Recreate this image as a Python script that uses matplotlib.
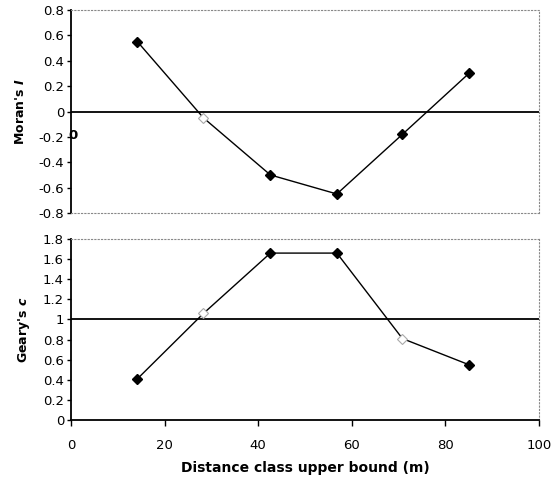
import matplotlib.pyplot as plt

# distance classes (upper bound, m)
dist = [14.2, 28.3, 42.6, 56.8, 70.8, 85.0]
moran_i = [0.55, -0.05, -0.50, -0.65, -0.18, 0.30]
geary_c = [0.41, 1.06, 1.66, 1.66, 0.81, 0.55]
# significant classes drawn filled, others hollow
moran_sig = [True, False, True, True, True, True]
geary_sig = [True, False, True, True, False, True]

plt.rcParams['font.family'] = 'DejaVu Sans'
fig = plt.figure(figsize=(5.52, 4.86), dpi=100)
ax1 = fig.add_axes([0.1286, 0.5617, 0.848, 0.4177])
ax2 = fig.add_axes([0.1286, 0.1358, 0.848, 0.3724])


def style(ax, show_x):
    for side in ['top', 'right']:
        ax.spines[side].set_linestyle((0, (1, 2)))
        ax.spines[side].set_color('#888888')
        ax.spines[side].set_linewidth(0.8)
    ax.spines['left'].set_linewidth(1.3)
    if show_x:
        ax.spines['bottom'].set_linewidth(1.3)
        ax.tick_params(axis='x', direction='out', length=4, width=1, labelsize=9.5, pad=10)
    else:
        ax.spines['bottom'].set_linestyle((0, (1, 2)))
        ax.spines['bottom'].set_color('#888888')
        ax.spines['bottom'].set_linewidth(0.8)
        ax.tick_params(axis='x', length=0, labelbottom=False)
    ax.tick_params(axis='y', direction='out', length=3, width=1, labelsize=9.5, pad=2)
    ax.set_xlim(0, 100)
    ax.set_xticks(range(0, 101, 20))


def draw(ax, y, sig):
    ax.plot(dist, y, color='black', lw=1, zorder=3)
    for xi, yi, s in zip(dist, y, sig):
        if s:
            ax.plot(xi, yi, 'D', ms=5, color='black', zorder=4)
        else:
            ax.plot(xi, yi, 'D', ms=5, mfc='white', mec='#aaaaaa', mew=0.8, zorder=4)


style(ax1, False)
ax1.axhline(0, color='black', lw=1.3, zorder=2)
draw(ax1, moran_i, moran_sig)
ax1.set_ylim(-0.8, 0.8)
ax1.set_yticks([-0.8, -0.6, -0.4, -0.2, 0, 0.2, 0.4, 0.6, 0.8])
ax1.set_yticklabels(['-0.8', '-0.6', '-0.4', '-0.2', '0', '0.2', '0.4', '0.6', '0.8'])
ax1.set_ylabel(r"Moran's $\mathbfit{I}$", fontsize=9, fontweight='bold', labelpad=8)
ax1.text(0.4, -0.19, '0', fontsize=9.5, fontweight='bold', ha='center', va='center',
         zorder=5, clip_on=False)

style(ax2, True)
ax2.axhline(1, color='black', lw=1.3, zorder=2)
draw(ax2, geary_c, geary_sig)
ax2.set_ylim(0, 1.8)
ax2.set_yticks([0, 0.2, 0.4, 0.6, 0.8, 1, 1.2, 1.4, 1.6, 1.8])
ax2.set_yticklabels(['0', '0.2', '0.4', '0.6', '0.8', '1', '1.2', '1.4', '1.6', '1.8'])
ax2.set_ylabel(r"Geary's $\mathbfit{c}$", fontsize=9, fontweight='bold', labelpad=8)
ax2.set_xlabel('Distance class upper bound (m)', fontsize=10, fontweight='bold', labelpad=6)

fig.savefig('out.png', dpi=100)
